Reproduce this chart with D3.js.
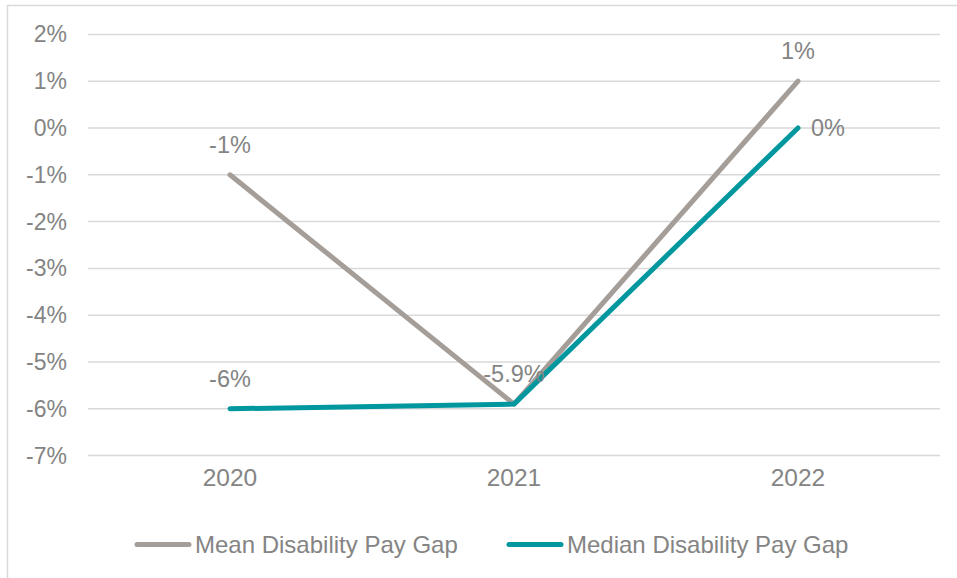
<!DOCTYPE html>
<html>
<head>
<meta charset="utf-8">
<script src="https://cdn.jsdelivr.net/npm/d3@7"></script>
<style>
  html, body { margin: 0; padding: 0; background: #fff; }
  svg { display: block; font-family: "Liberation Sans", Arial, sans-serif; }
</style>
</head>
<body>
<svg id="chart" width="957" height="578"></svg>
<script>
// Pay gap by year, in percent
const years = ["2020", "2021", "2022"];
const meanGap = [-1, -5.9, 1];
const medianGap = [-6, -5.9, 0];
const meanLabels = ["-1%", null, "1%"];
const medianLabels = ["-6%", "-5.9%", "0%"];
const yTicks = [2, 1, 0, -1, -2, -3, -4, -5, -6, -7];
const seriesNames = ["Mean Disability Pay Gap", "Median Disability Pay Gap"];

const colors = { mean: "#A59E98", median: "#00979F", text: "#848484", grid: "#D9D9D9" };

const svg = d3.select("#chart");

// outer frame
svg.append("rect")
  .attr("x", 7.5).attr("y", 5.5).attr("width", 960).attr("height", 580)
  .attr("fill", "none").attr("stroke", colors.grid).attr("stroke-width", 1.5);

const plot = { left: 88, right: 940, top: 34.4, bottom: 455.6 };

const x = d3.scaleBand().domain(years).range([plot.left, plot.right]);
const y = d3.scaleLinear().domain([-7, 2]).range([plot.bottom, plot.top]);
const cx = d => x(d) + x.bandwidth() / 2;

// horizontal gridlines
svg.append("g").selectAll("line").data(yTicks).join("line")
  .attr("x1", plot.left).attr("x2", plot.right)
  .attr("y1", d => y(d)).attr("y2", d => y(d))
  .attr("stroke", colors.grid).attr("stroke-width", 1.5);

// y axis labels
svg.append("g").selectAll("text").data(yTicks).join("text")
  .attr("x", 67).attr("y", d => y(d))
  .attr("dy", "0.35em").attr("text-anchor", "end")
  .attr("font-size", 23).attr("fill", colors.text)
  .text(d => d + "%");

// x axis labels
svg.append("g").selectAll("text").data(years).join("text")
  .attr("x", d => cx(d)).attr("y", 485.5)
  .attr("text-anchor", "middle")
  .attr("font-size", 24.5).attr("fill", colors.text)
  .text(d => d);

const line = d3.line().x(d => cx(d.year)).y(d => y(d.v));
const toPts = arr => arr.map((v, i) => ({ year: years[i], v }));

svg.append("path").datum(toPts(meanGap))
  .attr("d", line).attr("fill", "none")
  .attr("stroke", colors.mean).attr("stroke-width", 5)
  .attr("stroke-linecap", "round").attr("stroke-linejoin", "round");

svg.append("path").datum(toPts(medianGap))
  .attr("d", line).attr("fill", "none")
  .attr("stroke", colors.median).attr("stroke-width", 5)
  .attr("stroke-linecap", "round").attr("stroke-linejoin", "round");

// data labels
const labelG = svg.append("g").attr("font-size", 23.5).attr("fill", colors.text);
meanGap.forEach((v, i) => {
  if (!meanLabels[i]) return;
  labelG.append("text")
    .attr("x", cx(years[i])).attr("y", y(v) - 22)
    .attr("text-anchor", "middle").text(meanLabels[i]);
});
medianGap.forEach((v, i) => {
  const t = labelG.append("text").text(medianLabels[i]);
  if (i === years.length - 1) {
    t.attr("x", cx(years[i]) + 13).attr("y", y(v)).attr("dy", "0.35em").attr("text-anchor", "start");
  } else {
    t.attr("x", cx(years[i])).attr("y", y(v) - 22).attr("text-anchor", "middle");
  }
});

// legend
const legend = [
  { name: seriesNames[0], color: colors.mean, x0: 135 },
  { name: seriesNames[1], color: colors.median, x0: 507 }
];
const lg = svg.append("g");
legend.forEach(d => {
  lg.append("line")
    .attr("x1", d.x0 + 2).attr("x2", d.x0 + 54)
    .attr("y1", 544.5).attr("y2", 544.5)
    .attr("stroke", d.color).attr("stroke-width", 5).attr("stroke-linecap", "round");
  lg.append("text")
    .attr("x", d.x0 + 60).attr("y", 544.5).attr("dy", "0.35em")
    .attr("font-size", 24).attr("fill", colors.text)
    .text(d.name);
});
</script>
</body>
</html>
